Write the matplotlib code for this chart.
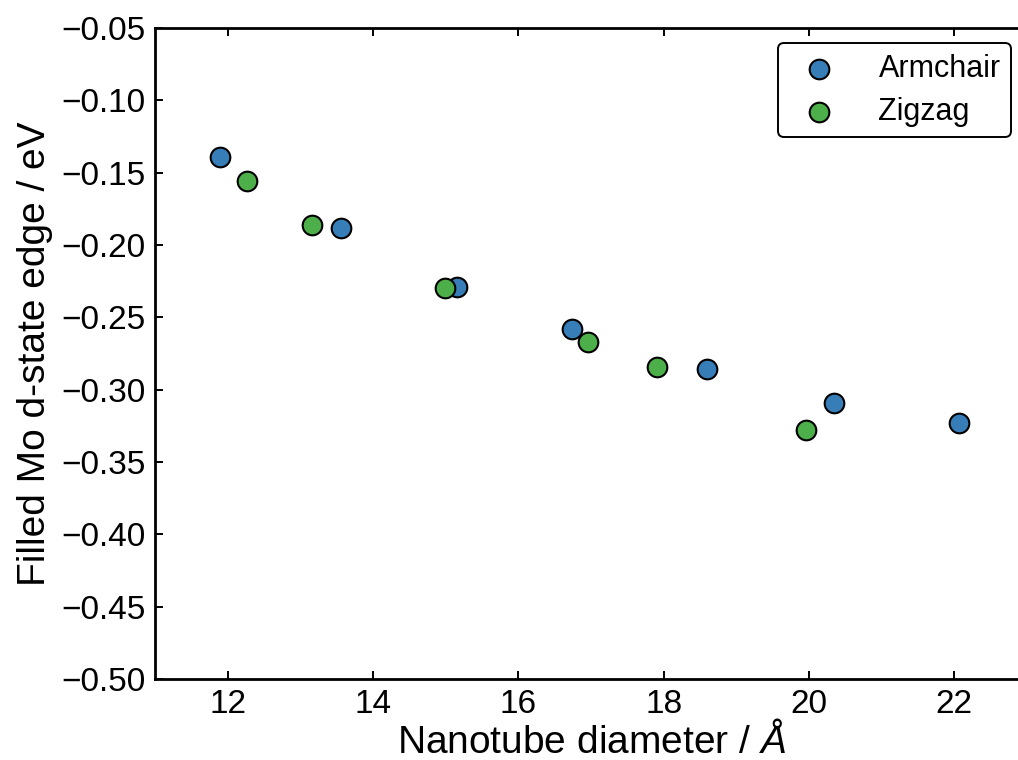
import matplotlib
matplotlib.use("Agg")
import matplotlib.pyplot as plt

plt.rcParams['font.family'] = ['Liberation Sans', 'DejaVu Sans']
plt.rcParams['mathtext.fontset'] = 'custom'
plt.rcParams['mathtext.rm'] = 'Liberation Sans'
plt.rcParams['mathtext.it'] = 'Liberation Sans:italic'

# diameters (Angstrom) and filled Mo d-state edge (eV)
armchair_d = [11.90, 13.56, 15.16, 16.74, 18.59, 20.35, 22.07]
armchair_e = [-0.139, -0.188, -0.229, -0.258, -0.286, -0.309, -0.323]
zigzag_d = [12.26, 13.16, 14.99, 16.96, 17.91, 19.96]
zigzag_e = [-0.156, -0.186, -0.230, -0.267, -0.284, -0.328]

xticks = [12, 14, 16, 18, 20, 22]
yticks = [-0.05, -0.10, -0.15, -0.20, -0.25, -0.30, -0.35, -0.40, -0.45, -0.50]

fig = plt.figure(figsize=(10.18, 7.6), dpi=100)
ax = fig.add_axes([0.1523, 0.1066, 0.8565, 0.8565])

ax.scatter(armchair_d, armchair_e, s=200, c='#377eb8', edgecolors='black',
           linewidths=1.5, label='Armchair', zorder=3)
ax.scatter(zigzag_d, zigzag_e, s=200, c='#4daf4a', edgecolors='black',
           linewidths=1.5, label='Zigzag', zorder=3)

ax.set_xlim(11, 23)
ax.set_ylim(-0.50, -0.05)
ax.set_xticks(xticks)
ax.set_yticks(yticks)
ax.set_yticklabels(['\u2212%.2f' % abs(v) for v in yticks])

ax.tick_params(direction='in', length=6, width=1.4, labelsize=24,
               top=True, right=True, pad=7)
for sp in ax.spines.values():
    sp.set_linewidth(2)

ax.set_xlabel(r'Nanotube diameter / $\AA$', fontsize=28, labelpad=2)
ax.set_ylabel('Filled Mo d-state edge / eV', fontsize=28, labelpad=6)

leg = ax.legend(loc='upper right', bbox_to_anchor=(0.982, 0.977),
                borderaxespad=0, fontsize=22,
                handletextpad=0.95, borderpad=0.35, labelspacing=0.42,
                scatterpoints=1, fancybox=True, framealpha=1)
leg.get_frame().set_edgecolor('black')
leg.get_frame().set_linewidth(1.4)

fig.savefig('out.png', dpi=100)
